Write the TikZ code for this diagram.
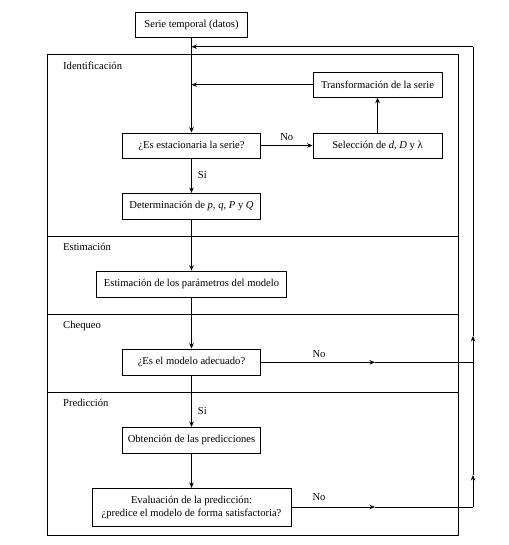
\documentclass[tikz,border=0pt]{standalone}
\usepackage{fontspec}
\setmainfont{Liberation Serif}
\usetikzlibrary{arrows.meta}
\begin{document}
\begin{tikzpicture}[x=1pt,y=-1pt,
  box/.style={draw,line width=0.8pt,inner sep=0pt,font=\fontsize{10.6}{12.5}\selectfont,align=center},
  lbl/.style={font=\fontsize{10.6}{12.5}\selectfont,inner sep=0pt},
  arr/.style={line width=0.8pt,-{Stealth[length=5.5pt,width=4.5pt]}},
  ln/.style={line width=0.8pt}]
\useasboundingbox (0,0) rectangle (508,545);
\fill[white] (0,0) rectangle (508,545);
% frame
\draw[line width=0.9pt] (47.7,54.3) rectangle (458.7,535.7);
\draw[ln] (47.7,236) -- (458.7,236);
\draw[ln] (47.7,314.3) -- (458.7,314.3);
\draw[ln] (47.7,392.7) -- (458.7,392.7);
\node[lbl,anchor=west] (lid) at (63,65.7) {Identificación};
\node[lbl,anchor=west] (lest) at (63,247.3) {Estimación};
\node[lbl,anchor=west] (lche) at (63,325.7) {Chequeo};
\node[lbl,anchor=west] (lpre) at (63,403.3) {Predicción};
% boxes
\node[box,minimum width=112pt,minimum height=25pt] (serie) at (191.5,24.5) {Serie temporal (datos)};
\node[box,minimum width=129pt,minimum height=25.3pt] (trans) at (377.5,84.7) {Transformación de la serie};
\node[box,minimum width=138pt,minimum height=25pt] (esta) at (191.5,145.5) {¿Es estacionaria la serie?};
\node[box,minimum width=129pt,minimum height=25pt] (sel) at (377.5,145.5) {Selección de \textit{d}, \textit{D} y λ};
\node[box,minimum width=138pt,minimum height=26pt] (det) at (191.5,206.3) {Determinación de \textit{p}, \textit{q}, \textit{P} y \textit{Q}};
\node[box,minimum width=190pt,minimum height=26.3pt] (estim) at (191.5,284.2) {Estimación de los parámetros del modelo};
\node[box,minimum width=138pt,minimum height=26pt] (adec) at (191.5,362) {¿Es el modelo adecuado?};
\node[box,minimum width=138pt,minimum height=25.7pt] (obt) at (191.5,440.2) {Obtención de las predicciones};
\node[box,minimum width=199pt,minimum height=38pt] (eval) at (191.5,507.3) {Evaluación de la predicción:\\¿predice el modelo de forma satisfactoria?};
% coordinates
\coordinate (mtop) at (191.5,46.7);
\coordinate (mtr) at (191.5,84.7);
\coordinate (rtop) at (473,46.7);
\coordinate (ra1) at (473,336);
\coordinate (ra2) at (473,475);
\coordinate (rbot) at (473,507);
\coordinate (rmid) at (473,362.3);
\coordinate (n1) at (375,362.3);
\coordinate (n2) at (375,507);
\coordinate (d1) at (191.5,236);
% connectors
\draw[arr] (serie.south) -- (esta.north);
\draw[arr] (trans.west) -- (mtr);
\draw[arr] (esta.east) -- node[lbl,above=4pt] (no1) {No} (sel.west);
\draw[arr] (sel.north) -- (trans.south);
\draw[arr] (esta.south) -- node[lbl,right=6pt,pos=0.47] (si1) {Si} (det.north);
\draw[ln] (det.south) -- (d1);
\draw[arr] (d1) -- (estim.north);
\draw[arr] (estim.south) -- (adec.north);
\draw[arr] (adec.south) -- node[lbl,right=6pt,pos=0.7] (si2) {Si} (obt.north);
\draw[arr] (obt.south) -- (eval.north);
\draw[arr] (adec.east |- n1) -- (n1);
\draw[ln] (n1) -- (rmid);
\node[lbl] (no2) at (319,354.3) {No};
\draw[arr] (eval.east |- n2) -- (n2);
\draw[ln] (n2) -- (rbot);
\node[lbl] (no3) at (319,497.3) {No};
\draw[arr] (rbot) -- (ra2);
\draw[arr] (ra2) -- (ra1);
\draw[ln] (ra1) -- (rtop);
\draw[arr] (rtop) -- (mtop);
\end{tikzpicture}
\end{document}
